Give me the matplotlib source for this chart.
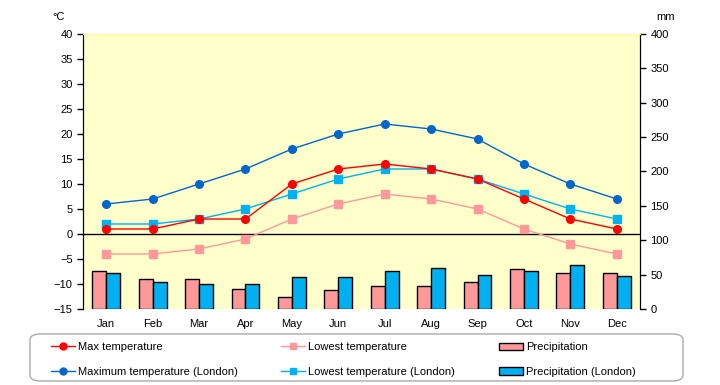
import numpy as np
import matplotlib.pyplot as plt
from matplotlib.lines import Line2D
from matplotlib.patches import Patch, FancyBboxPatch

plt.rcParams['font.family'] = ['Liberation Sans', 'DejaVu Sans']

months = ['Jan', 'Feb', 'Mar', 'Apr', 'May', 'Jun', 'Jul', 'Aug', 'Sep', 'Oct', 'Nov', 'Dec']
max_temp = [1, 1, 3, 3, 10, 13, 14, 13, 11, 7, 3, 1]
low_temp = [-4, -4, -3, -1, 3, 6, 8, 7, 5, 1, -2, -4]
max_temp_london = [6, 7, 10, 13, 17, 20, 22, 21, 19, 14, 10, 7]
low_temp_london = [2, 2, 3, 5, 8, 11, 13, 13, 11, 8, 5, 3]
precip = [55, 44, 44, 29, 18, 27, 33, 33, 39, 58, 53, 53]
precip_london = [53, 40, 37, 37, 46, 46, 56, 59, 49, 56, 64, 48]

c_red = '#FF0000'
c_pink = '#FF9999'
c_blue = '#0066CC'
c_cyan = '#00B0F0'

fig = plt.figure(figsize=(7.2, 3.85), dpi=100)
ax = fig.add_axes([0.1153, 0.1974, 0.7736, 0.7143])
ax2 = ax.twinx()

x = np.arange(len(months))
w = 0.3

# precipitation bars on the right axis, drawn behind the lines
ax2.patch.set_visible(True)
ax2.set_facecolor('#FFFFCC')
ax2.bar(x - w / 2, precip, w, color=c_pink, edgecolor='black', linewidth=1)
ax2.bar(x + w / 2, precip_london, w, color=c_cyan, edgecolor='black', linewidth=1)
ax2.set_ylim(0, 400)
ax2.set_yticks(range(0, 401, 50))

ax.set_zorder(ax2.get_zorder() + 1)
ax.patch.set_visible(False)

ax.axhline(0, color='black', lw=1)
ax.plot(x, low_temp, color=c_pink, lw=1, marker='s', ms=5.5)
ax.plot(x, max_temp_london, color=c_blue, lw=1, marker='o', ms=5.5)
ax.plot(x, low_temp_london, color=c_cyan, lw=1, marker='s', ms=5.5)
ax.plot(x, max_temp, color=c_red, lw=1, marker='o', ms=5.5)

ax.set_xlim(-0.5, 11.5)
ax.set_ylim(-15, 40)
ax.set_yticks(range(-15, 41, 5))
ax.set_xticks(x)
ax.set_xticklabels(months)
ax.tick_params(axis='x', length=0, pad=7, labelsize=8)
ax.tick_params(axis='y', length=4, width=1, labelsize=8)
ax2.tick_params(axis='y', length=4, width=1, labelsize=8)

for a in (ax, ax2):
    a.spines['top'].set_color('#FFF799')
    a.spines['bottom'].set_visible(False)
    a.spines['left'].set_color('black')
    a.spines['right'].set_color('black')

fig.text(0.073, 0.955, '°C', fontsize=8, ha='left', va='center')
fig.text(0.925, 0.955, 'mm', fontsize=8, ha='center', va='center')

# legend frame + three columns
frame = FancyBboxPatch((30 / 720, 4 / 385), 653 / 720, 47 / 385,
                       boxstyle='round,pad=0,rounding_size=0.015',
                       transform=fig.transFigure, facecolor='white',
                       edgecolor='#AAAAAA', lw=1)
fig.patches.append(frame)

columns = [
    (45, [Line2D([], [], color=c_red, marker='o', ms=5, lw=1),
          Line2D([], [], color=c_blue, marker='o', ms=5, lw=1)],
     ['Max temperature', 'Maximum temperature (London)']),
    (275, [Line2D([], [], color=c_pink, marker='s', ms=5, lw=1),
           Line2D([], [], color=c_cyan, marker='s', ms=5, lw=1)],
     ['Lowest temperature', 'Lowest temperature (London)']),
    (493, [Patch(facecolor=c_pink, edgecolor='black'),
           Patch(facecolor=c_cyan, edgecolor='black')],
     ['Precipitation', 'Precipitation (London)']),
]
for xpos, hs, ls in columns:
    leg = fig.legend(hs, ls, loc='center left',
                     bbox_to_anchor=(xpos / 720, 1 - 359.5 / 385),
                     fontsize=8, frameon=False, handlelength=2.2,
                     handletextpad=0.3, labelspacing=1.3, borderpad=0)

fig.savefig('out.png', dpi=100)
